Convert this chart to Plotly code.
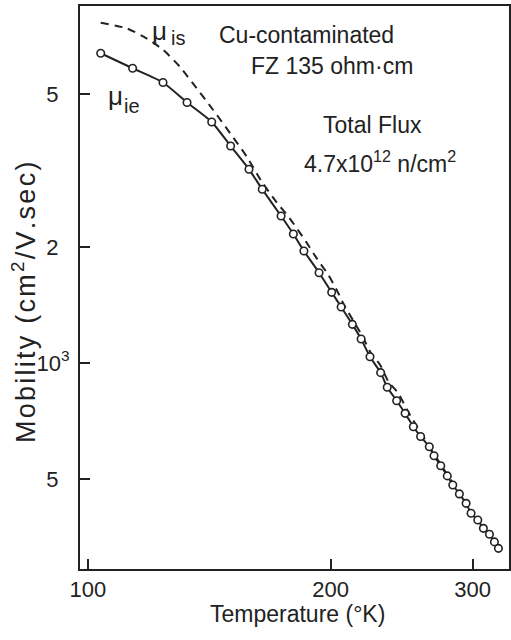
import plotly.graph_objects as go

# Temperature (K) and mobility (cm^2/V.sec) for mu_ie (measured, circles)
T_ie = [103.7, 113.6, 123.9, 132.7, 142.4, 150.3, 158.4, 164.5, 173.6, 179.8,
        185.3, 193.5, 200.6, 206.1, 212.8, 218.2, 223.8, 230.7, 235.1, 241.5,
        247.4, 253.3, 258.6, 265.1, 268.7, 273.9, 279.1, 283.5, 288.9, 294.5,
        298.7, 304.5, 309.4, 314.8, 319.3, 323.0]
mu_ie = [6375, 5830, 5354, 4750, 4227, 3661, 3185, 2827, 2409, 2163,
         1954, 1716, 1526, 1398, 1260, 1154, 1038, 944, 865, 798,
         740, 683, 644, 606, 574, 541, 509, 482, 457, 432,
         407, 391, 372, 359, 343, 330]

# mu_is (dashed curve)
T_is = [103.7, 111.7, 118.2, 124.0, 130.0, 136.4, 143.0, 150.1, 157.4, 164.3,
        171.5, 177.3, 186.4, 192.2, 198.7, 203.5, 208.4, 218.6, 223.9, 230.4,
        235.9, 242.7, 249.3, 260.0, 275.0, 290.0]
mu_is = [7654, 7402, 6970, 6501, 5884, 5170, 4541, 3951, 3434, 2957,
         2610, 2400, 2066, 1870, 1693, 1548, 1400, 1182, 1070, 988,
         894, 834, 750, 648, 538, 454]

x_tickvals = [100, 200, 300]
x_ticktext = ["100", "200", "300"]
y_tickvals = [5000, 2000, 1000, 500]
# labels split over two overlaid axes so their offsets can differ
y_digit_vals = [5000, 2000, 500]
y_digit_text = ["5", "2", "5"]
y_decade_vals = [1000]
y_decade_text = ["10<sup>3</sup>"]

y_title = "Mobility (cm²/V.sec)"
x_title = "Temperature (°K)"

FONT = "Liberation Sans"
INK = "#222222"
CLEAR = "rgba(0,0,0,0)"
X_RANGE = [1.9901, 2.5223]
Y_RANGE = [2.4649, 3.9273]

fig = go.Figure()
fig.add_trace(go.Scatter(
    x=T_is, y=mu_is, mode="lines",
    line=dict(color=INK, width=2, dash="8px,6px", shape="spline", smoothing=0.6),
    showlegend=False, hoverinfo="skip"))
fig.add_trace(go.Scatter(
    x=T_ie, y=mu_ie, mode="lines+markers",
    line=dict(color=INK, width=2, shape="spline", smoothing=0.6),
    marker=dict(symbol="circle", size=7.5, color="white",
                line=dict(color=INK, width=1.6)),
    showlegend=False))
# invisible carriers so that the label-only overlay axes get drawn
for ya in ("y2", "y3"):
    fig.add_trace(go.Scatter(x=T_ie, y=mu_ie, yaxis=ya, mode="lines",
                             line=dict(color=CLEAR, width=0), opacity=0,
                             showlegend=False, hoverinfo="skip"))

W, H = 511, 640
L, R, T, B = 80, 2, 6, 71

TF = dict(size=22, family=FONT, color=INK)

fig.update_layout(
    width=W, height=H,
    margin=dict(l=L, r=R, t=T, b=B),
    paper_bgcolor="white", plot_bgcolor="white",
    font=dict(family=FONT, size=22, color=INK),
    xaxis=dict(type="log", range=X_RANGE,
               tickvals=x_tickvals, ticktext=x_ticktext,
               ticks="inside", ticklen=10, tickwidth=1.5, tickcolor=INK,
               showline=True, linecolor=INK, linewidth=2, mirror=True,
               showgrid=False, zeroline=False, automargin=False, tickfont=TF),
    yaxis=dict(type="log", range=Y_RANGE, tickvals=y_tickvals,
               showticklabels=False,
               ticks="inside", ticklen=10, tickwidth=1.5, tickcolor=INK,
               showline=True, linecolor=INK, linewidth=2, mirror=True,
               showgrid=False, zeroline=False, automargin=False),
    yaxis2=dict(type="log", range=Y_RANGE, overlaying="y", side="left", anchor="x",
                tickvals=y_digit_vals, ticktext=y_digit_text,
                ticks="outside", ticklen=16, tickcolor=CLEAR,
                showline=False, showgrid=False, zeroline=False,
                automargin=False, tickfont=TF),
    yaxis3=dict(type="log", range=Y_RANGE, overlaying="y", side="left", anchor="x",
                tickvals=y_decade_vals, ticktext=y_decade_text,
                ticks="outside", ticklen=5, tickcolor=CLEAR,
                showline=False, showgrid=False, zeroline=False,
                automargin=False, tickfont=TF),
)

def px(xp):
    return (xp - L) / (W - L - R)

def py(yp):
    return (H - B - yp) / (H - T - B)

annots = [
    dict(text="μ", x=px(150), y=py(31), xanchor="left", size=26),
    dict(text="is", x=px(169), y=py(38), xanchor="left", size=20),
    dict(text="μ", x=px(106), y=py(96), xanchor="left", size=26),
    dict(text="ie", x=px(122), y=py(106), xanchor="left", size=20),
    dict(text="Cu-contaminated", x=px(306), y=py(35), xanchor="center", size=23),
    dict(text="FZ 135 ohm·cm", x=px(332), y=py(66), xanchor="center", size=23),
    dict(text="Total Flux", x=px(372), y=py(125), xanchor="center", size=23),
    dict(text="4.7x10<sup>12</sup> n/cm<sup>2</sup>", x=px(380), y=py(162), xanchor="center", size=23),
    dict(text=x_title, x=px(297), y=py(614), xanchor="center", size=23),
]
for a in annots:
    fig.add_annotation(text=a["text"], x=a["x"], y=a["y"], xref="paper", yref="paper",
                       xanchor=a["xanchor"], yanchor="middle", showarrow=False,
                       font=dict(family=FONT, size=a["size"], color=INK))

spaced = "\u200a".join(list(y_title)).replace("²", "<sup>2</sup>")
fig.add_annotation(text=spaced, x=px(24), y=py(303),
                   xref="paper", yref="paper", xanchor="center", yanchor="middle",
                   textangle=-90, showarrow=False,
                   font=dict(family=FONT, size=27, color=INK))

fig.write_html("out.html", config={"displayModeBar": False},
               post_script="document.body.style.margin='0';document.body.style.overflow='hidden';")
